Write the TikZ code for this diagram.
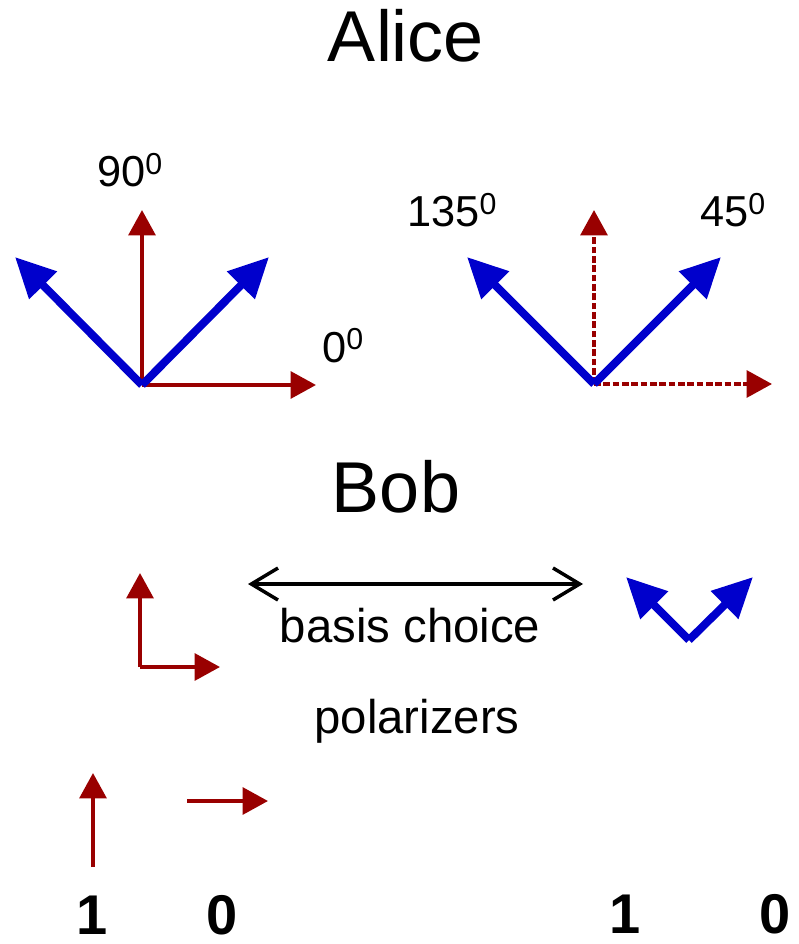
\documentclass[tikz,border=0pt]{standalone}
\usepackage{fontspec}
\setmainfont{Liberation Sans}
\usetikzlibrary{arrows.meta}
\definecolor{axisred}{HTML}{990000}
\definecolor{diagblue}{HTML}{0000CC}
\definecolor{ink}{HTML}{000000}

\begin{document}
\begin{tikzpicture}[
  x=0.75pt, y=-0.75pt,
  title/.style={font=\fontsize{54}{60}\selectfont, inner sep=0pt, anchor=base},
  angle/.style={font=\fontsize{32.5}{38}\selectfont, inner sep=0pt, anchor=base west},
  caption/.style={font=\fontsize{35.5}{42}\selectfont, inner sep=0pt, anchor=base},
  bit/.style={font=\fontsize{42}{50}\selectfont\bfseries, inner sep=0pt, anchor=base},
  rectvec/.style={draw=axisred, line width=3pt, -{Triangle[length=19pt, width=20pt]}},
  rectdash/.style={rectvec, dash pattern=on 5pt off 2pt},
  diagvec/.style={draw=diagblue, line width=6pt, -{Triangle[length=30pt, width=28pt]}},
  choice/.style={draw=ink, line width=2.6pt,
    {Straight Barb[length=20pt, width=24pt]}-{Straight Barb[length=20pt, width=24pt]}}
]
\useasboundingbox (0,0) rectangle (798,944);

% Alice
\node[title] (alice) at (406,62) {Alice};

\coordinate (rectbasis) at (142,385);
\draw[rectvec] (rectbasis) -- ++(0,-175);
\draw[rectvec] (rectbasis) -- ++(174,0);
\draw[diagvec] (rectbasis) -- ++(-127,-128);
\draw[diagvec] (rectbasis) -- ++(127,-128);
\node[angle] (ninety) at (97,187) {90\textsuperscript{0}};
\node[angle] (zerodeg) at (322,362) {0\textsuperscript{0}};

\coordinate (diagbasis) at (594,384);
\draw[rectdash] (diagbasis) -- ++(0,-174);
\draw[rectdash] (diagbasis) -- ++(178,0);
\draw[diagvec] (diagbasis) -- ++(-127,-127);
\draw[diagvec] (diagbasis) -- ++(127,-127);
\node[angle] (onethirtyfive) at (407,227) {135\textsuperscript{0}};
\node[angle] (fortyfive) at (700,227) {45\textsuperscript{0}};

% Bob
\node[title] (bob) at (396,512) {Bob};

\coordinate (bobrect) at (140,667);
\draw[rectvec] (bobrect) -- ++(0,-94);
\draw[rectvec] (bobrect) -- ++(80,0);

\coordinate (bobdiag) at (689,640);
\draw[diagvec] (bobdiag) -- ++(-63,-63);
\draw[diagvec] (bobdiag) -- ++(64,-63);

\coordinate (choiceL) at (248,584);
\coordinate (choiceR) at (583,584);
\draw[choice] (choiceL) -- (choiceR);
\node[caption] (basis) at (410,642) {basis choice};
\node[caption] (polar) at (417,733) {polarizers};

% bit values
\coordinate (bitone) at (93,867);
\draw[rectvec] (bitone) -- ++(0,-94);
\coordinate (bitzero) at (187,801);
\draw[rectvec] (bitzero) -- ++(81,0);

\node[bit] (oneL) at (92,934) {1};
\node[bit] (zeroL) at (222,934) {0};
\node[bit] (oneR) at (625,933) {1};
\node[bit] (zeroR) at (775,933) {0};

\end{tikzpicture}
\end{document}
